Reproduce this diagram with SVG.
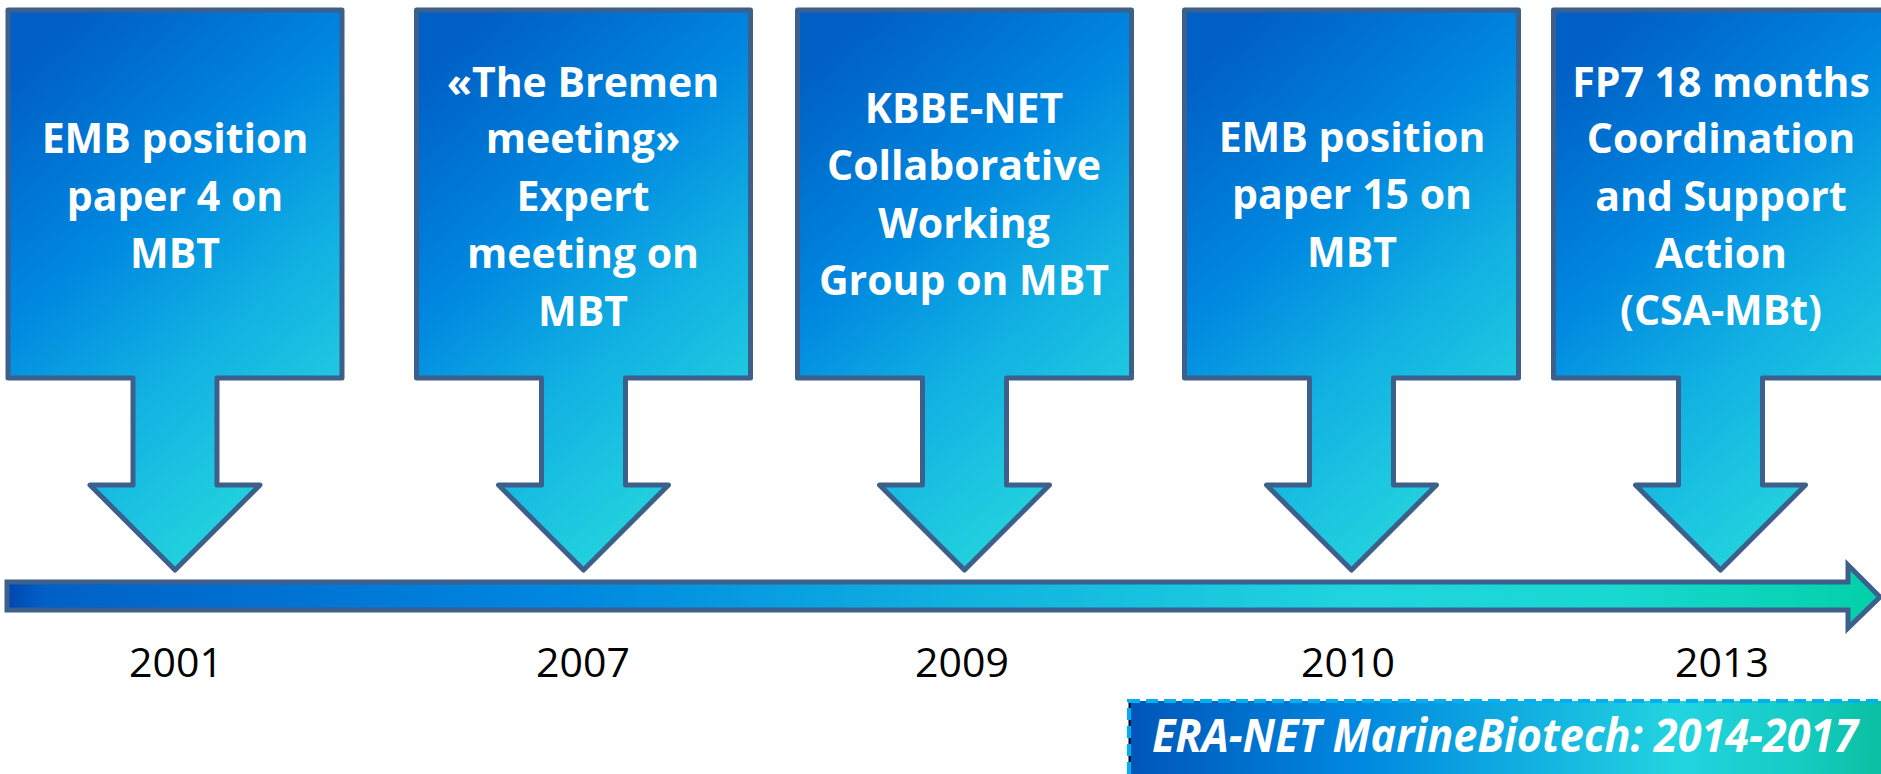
<svg xmlns="http://www.w3.org/2000/svg" width="1881" height="774" viewBox="0 0 1881 774">
  <style>
    .callout { stroke: #3C5F8C; stroke-width: 5; stroke-linejoin: round; fill: url(#gCallout); }
    .lbl { font-family: "Open Sans", "Noto Sans", sans-serif; font-weight: bold; font-size: 41px; fill: #FFFFFF; text-anchor: middle; }
    .year { font-family: "Open Sans", "Noto Sans", sans-serif; font-size: 41px; fill: #000000; text-anchor: middle; }
    .era { font-family: "Open Sans", "Noto Sans", sans-serif; font-weight: bold; font-style: italic; font-size: 47px; fill: #FFFFFF; }
  </style>
  <defs>
    <linearGradient id="gCallout" x1="0.25" y1="0" x2="0.75" y2="1">
      <stop offset="0" stop-color="#0060C6"/>
      <stop offset="0.35" stop-color="#0088E0"/>
      <stop offset="0.62" stop-color="#12B2E2"/>
      <stop offset="0.82" stop-color="#1EC8E0"/>
      <stop offset="1" stop-color="#24DCD6"/>
    </linearGradient>
    <linearGradient id="gTimeline" x1="0" y1="0" x2="1" y2="0">
      <stop offset="0" stop-color="#0048B0"/>
      <stop offset="0.02" stop-color="#0060C8"/>
      <stop offset="0.3" stop-color="#0088E0"/>
      <stop offset="0.5" stop-color="#10B0E0"/>
      <stop offset="0.72" stop-color="#20D4DE"/>
      <stop offset="0.86" stop-color="#18D8D0"/>
      <stop offset="1" stop-color="#02D0A8"/>
    </linearGradient>
    <linearGradient id="gEra" x1="0" y1="0" x2="1" y2="0">
      <stop offset="0" stop-color="#0056B8"/>
      <stop offset="0.3" stop-color="#0088E0"/>
      <stop offset="0.55" stop-color="#14B4E0"/>
      <stop offset="0.72" stop-color="#22D4E0"/>
      <stop offset="0.88" stop-color="#16CCC4"/>
      <stop offset="1" stop-color="#08BE9E"/>
    </linearGradient>
    <path id="calloutShape" d="M -167 10 L 167 10 L 167 378 L 42 378 L 42 485 L 85 485 L 0 570 L -85 485 L -42 485 L -42 378 L -167 378 Z"/>
  </defs>

  <rect x="0" y="0" width="1881" height="774" fill="#FFFFFF"/>

  <g id="connectors">
    <path id="timeline" d="M 7 582 L 1848 582 L 1848 565 L 1880 597 L 1848 628 L 1848 610 L 7 610 Z" fill="url(#gTimeline)" stroke="#3C5F8C" stroke-width="5" stroke-linejoin="miter"/>
  </g>

  <g id="node-2001">
    <use href="#calloutShape" class="callout" transform="translate(175,0)"/>
    <text class="lbl" x="175" y="153">EMB position</text>
    <text class="lbl" x="175" y="211">paper 4 on</text>
    <text class="lbl" x="175" y="268">MBT</text>
    <text class="year" x="176" y="677">2001</text>
  </g>

  <g id="node-2007">
    <use href="#calloutShape" class="callout" transform="translate(583.5,0)"/>
    <text class="lbl" x="583" y="97">«The Bremen</text>
    <text class="lbl" x="583" y="153">meeting»</text>
    <text class="lbl" x="583" y="211">Expert</text>
    <text class="lbl" x="583" y="268">meeting on</text>
    <text class="lbl" x="583" y="326">MBT</text>
    <text class="year" x="583" y="677">2007</text>
  </g>

  <g id="node-2009">
    <use href="#calloutShape" class="callout" transform="translate(964.5,0)"/>
    <text class="lbl" x="964" y="123">KBBE-NET</text>
    <text class="lbl" x="964" y="180">Collaborative</text>
    <text class="lbl" x="964" y="238">Working</text>
    <text class="lbl" x="964" y="295">Group on MBT</text>
    <text class="year" x="962" y="677">2009</text>
  </g>

  <g id="node-2010">
    <use href="#calloutShape" class="callout" transform="translate(1351.5,0)"/>
    <text class="lbl" x="1352" y="152">EMB position</text>
    <text class="lbl" x="1352" y="209">paper 15 on</text>
    <text class="lbl" x="1352" y="267">MBT</text>
    <text class="year" x="1348" y="677">2010</text>
  </g>

  <g id="node-2013">
    <use href="#calloutShape" class="callout" transform="translate(1720.5,0)"/>
    <text class="lbl" x="1721" y="97">FP7 18 months</text>
    <text class="lbl" x="1721" y="153">Coordination</text>
    <text class="lbl" x="1721" y="211">and Support</text>
    <text class="lbl" x="1721" y="268">Action</text>
    <text class="lbl" x="1721" y="325">(CSA-MBt)</text>
    <text class="year" x="1722" y="677">2013</text>
  </g>

  <g id="node-eranet">
    <rect x="1129" y="701" width="760" height="80" fill="url(#gEra)"/>
    <line x1="1129.5" y1="701" x2="1129.5" y2="774" stroke="#000000" stroke-width="2"/>
    <path d="M 1129 774 L 1129 701 L 1885 701" fill="none" stroke="#00B0F0" stroke-width="4" stroke-dasharray="12 6"/>
    <text class="era" x="1152" y="752" textLength="706" lengthAdjust="spacingAndGlyphs">ERA-NET MarineBiotech: 2014-2017</text>
  </g>
</svg>
